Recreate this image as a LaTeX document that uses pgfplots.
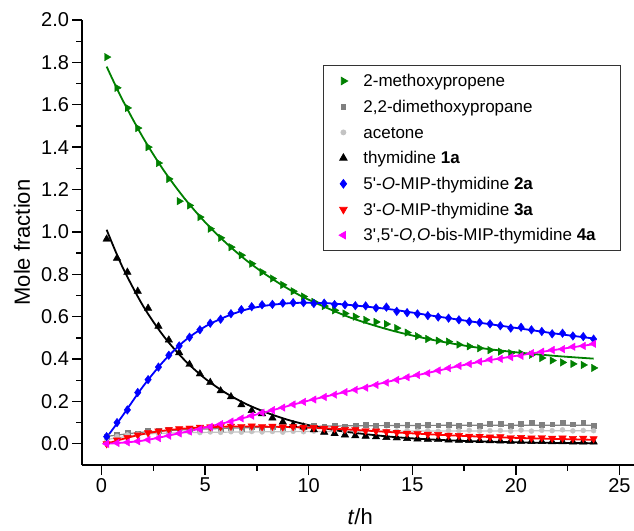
\documentclass[border=0pt]{standalone}
\usepackage{pgfplots}
\usepackage{pgfplotstable}
\pgfplotsset{compat=1.18}
\usepackage{fontspec}
\setmainfont{Liberation Sans}

\definecolor{cgreen}{RGB}{0,128,0}
\definecolor{cgray}{RGB}{128,128,128}
\definecolor{clgray}{RGB}{195,195,195}
\definecolor{cblue}{RGB}{0,0,255}
\definecolor{cred}{RGB}{255,0,0}
\definecolor{cmag}{RGB}{255,0,255}

% legend image: one mark, with room before the text
\pgfplotsset{legimg/.style={legend image code/.code={%
    \path[draw=none, fill=none] (0pt,-4pt) rectangle (29pt,4pt);
    \draw[##1,mark repeat=2,mark phase=2] plot coordinates {(0pt,0pt)(12pt,0pt)(29pt,0pt)};}}}
\newcommand{\legtext}[1]{\makebox[246pt][l]{\rule[-4pt]{0pt}{17pt}#1}}

% measured mole fractions, every 0.5 h
\pgfplotstableread{
t mp dmp ac thy a2 a3 a4
0.25 1.825 0.035 0.020 0.966 0.034 0.000 0.000
0.75 1.680 0.045 0.035 0.876 0.100 0.018 0.004
1.25 1.585 0.055 0.042 0.810 0.160 0.030 0.007
1.75 1.490 0.050 0.045 0.720 0.242 0.042 0.012
2.25 1.400 0.060 0.050 0.640 0.303 0.052 0.019
2.75 1.325 0.062 0.048 0.555 0.362 0.060 0.027
3.25 1.250 0.065 0.052 0.490 0.418 0.066 0.038
3.75 1.145 0.060 0.050 0.430 0.462 0.071 0.049
4.25 1.125 0.070 0.055 0.375 0.503 0.074 0.058
4.75 1.070 0.068 0.053 0.330 0.538 0.078 0.069
5.25 1.015 0.072 0.056 0.290 0.569 0.080 0.080
5.75 0.972 0.070 0.054 0.250 0.588 0.081 0.093
6.25 0.928 0.075 0.057 0.222 0.614 0.083 0.105
6.75 0.890 0.072 0.055 0.184 0.633 0.082 0.120
7.25 0.850 0.078 0.058 0.157 0.647 0.084 0.133
7.75 0.810 0.075 0.056 0.142 0.656 0.081 0.147
8.25 0.780 0.080 0.058 0.122 0.658 0.083 0.159
8.75 0.750 0.077 0.055 0.103 0.664 0.080 0.171
9.25 0.720 0.082 0.059 0.090 0.666 0.081 0.186
9.75 0.695 0.080 0.057 0.079 0.666 0.078 0.198
10.25 0.670 0.085 0.060 0.066 0.662 0.077 0.209
10.75 0.650 0.082 0.058 0.055 0.664 0.073 0.221
11.25 0.630 0.086 0.060 0.048 0.657 0.072 0.232
11.75 0.615 0.083 0.057 0.042 0.656 0.068 0.244
12.25 0.600 0.087 0.061 0.038 0.652 0.066 0.255
12.75 0.585 0.092 0.059 0.036 0.651 0.062 0.265
13.25 0.575 0.085 0.062 0.033 0.641 0.060 0.278
13.75 0.565 0.090 0.060 0.030 0.645 0.057 0.289
14.25 0.546 0.088 0.061 0.028 0.625 0.054 0.302
14.75 0.525 0.090 0.063 0.025 0.619 0.050 0.314
15.25 0.508 0.086 0.060 0.023 0.613 0.049 0.325
15.75 0.495 0.090 0.062 0.021 0.605 0.045 0.333
16.25 0.487 0.088 0.059 0.020 0.598 0.044 0.346
16.75 0.482 0.092 0.063 0.018 0.593 0.040 0.357
17.25 0.468 0.086 0.061 0.017 0.585 0.039 0.368
17.75 0.460 0.093 0.064 0.016 0.577 0.036 0.377
18.25 0.451 0.087 0.060 0.015 0.572 0.035 0.388
18.75 0.442 0.094 0.062 0.014 0.566 0.032 0.398
19.25 0.435 0.094 0.063 0.013 0.557 0.033 0.401
19.75 0.428 0.086 0.060 0.012 0.546 0.029 0.409
20.25 0.427 0.094 0.065 0.012 0.550 0.030 0.415
20.75 0.420 0.100 0.060 0.011 0.538 0.027 0.428
21.25 0.405 0.090 0.064 0.011 0.530 0.029 0.435
21.75 0.393 0.093 0.062 0.010 0.519 0.026 0.443
22.25 0.384 0.100 0.066 0.010 0.522 0.027 0.447
22.75 0.377 0.093 0.061 0.009 0.509 0.025 0.458
23.25 0.372 0.100 0.063 0.009 0.506 0.026 0.462
23.75 0.358 0.086 0.062 0.009 0.494 0.024 0.472
}\kin

\begin{document}
\begin{tikzpicture}
\useasboundingbox (-82pt,-65pt) rectangle (552pt,465pt);
\begin{axis}[
    at={(0pt,0pt)}, anchor=south west,
    scale only axis, width=552pt, height=445pt,
    xmin=-0.94, xmax=25.7, ymin=-0.1, ymax=2.0,
    axis x line*=bottom, axis y line*=left,
    axis line style={line width=1.3pt, -},
    xtick={0,5,10,15,20,25},
    ytick={0,0.2,0.4,0.6,0.8,1.0,1.2,1.4,1.6,1.8,2.0},
    minor x tick num=1, minor y tick num=1,
    tick align=outside,
    major tick length=9.5pt, minor tick length=5.5pt,
    every tick/.style={black, line width=1.3pt},
    /pgf/number format/assume math mode=true,
    tick label style={font=\fontsize{20}{20}\selectfont},
    yticklabel style={/pgf/number format/.cd, fixed, fixed zerofill, precision=1},
    every axis y label/.style={at={(rel axis cs:0,0.5)}, rotate=90, anchor=center, yshift=60pt},
    every axis x label/.style={at={(rel axis cs:0.504,0)}, anchor=base, yshift=-59pt},
    ylabel={\fontsize{22}{22}\selectfont Mole fraction},
    xlabel={\fontsize{22}{22}\selectfont\textit{t}/h},
    legend style={at={(rel axis cs:0.4366,0.899)}, anchor=north west,
        draw=black!80, line width=0.8pt, fill=white,
        font=\fontsize{17}{17}\selectfont,
        inner xsep=8pt, inner ysep=5.4pt, row sep=5.2pt,
        nodes={inner sep=3pt}},
    legend cell align=left,
]
% fitted curves
\addplot[clgray, line width=1.2pt, smooth, forget plot] coordinates {
 (0.25,0.02) (2,0.045) (4,0.052) (6,0.055) (10,0.058) (15,0.060) (20,0.061) (23.75,0.062)};
\addplot[cgray, line width=1.2pt, smooth, forget plot] coordinates {
 (0.25,0.035) (2,0.055) (4,0.066) (6,0.073) (8,0.078) (10,0.082) (12,0.085) (16,0.087) (20,0.088) (23.75,0.088)};
\addplot[cgreen, line width=1.8pt, smooth, forget plot] coordinates {
 (0.25,1.780) (1,1.626) (2,1.446) (3,1.291) (4,1.159) (5,1.046) (6,0.949) (7,0.865) (8,0.794)
 (9,0.732) (10,0.680) (12,0.596) (14,0.535) (16,0.490) (18,0.456) (20,0.432) (22,0.414) (23.75,0.402)};
\addplot[black, line width=1.8pt, smooth, forget plot] coordinates {
 (0.25,1.010) (1,0.837) (2,0.652) (3,0.508) (4,0.396) (5,0.308) (6,0.240) (7,0.187) (8,0.146)
 (9,0.113) (10,0.088) (11,0.069) (12,0.054) (14,0.033) (16,0.020) (18,0.012) (20,0.007) (22,0.004) (23.75,0.003)};
\addplot[cblue, line width=1.8pt, smooth, forget plot] coordinates {
 (0.25,0.030) (1,0.130) (2,0.270) (3,0.390) (4,0.485) (5,0.553) (6,0.600) (7,0.634) (8,0.653)
 (9,0.663) (10,0.666) (11,0.663) (12,0.655) (14,0.634) (16,0.604) (18,0.575) (20,0.547) (22,0.519) (23.75,0.497)};
\addplot[cred, line width=1.8pt, smooth, forget plot] coordinates {
 (0.25,0.000) (1,0.022) (2,0.046) (3,0.062) (4,0.072) (5,0.078) (6,0.081) (7,0.082) (8,0.081)
 (9,0.079) (10,0.076) (12,0.067) (14,0.055) (16,0.044) (18,0.035) (20,0.028) (22,0.023) (23.75,0.019)};
\addplot[cmag, line width=1.8pt, smooth, forget plot] coordinates {
 (0.25,0.000) (2,0.015) (4,0.055) (6,0.100) (8,0.152) (10,0.204) (12,0.250) (14,0.297)
 (16,0.340) (18,0.382) (20,0.415) (22,0.445) (23.75,0.470)};
% measured points
\addplot[only marks, legimg, mark=triangle*, mark size=4.3pt, color=cgreen, mark options={rotate=-90}] table[x=t, y=mp] {\kin};
\addlegendentry{\legtext{2-methoxypropene}}
\addplot[only marks, legimg, mark=square*, mark size=2.4pt, color=cgray] table[x=t, y=dmp] {\kin};
\addlegendentry{\legtext{2,2-dimethoxypropane}}
\addplot[only marks, legimg, mark=*, mark size=2.5pt, color=clgray] table[x=t, y=ac] {\kin};
\addlegendentry{\legtext{acetone}}
\addplot[only marks, legimg, mark=triangle*, mark size=4.3pt, color=black] table[x=t, y=thy] {\kin};
\addlegendentry{\legtext{thymidine \textbf{1a}}}
\addplot[only marks, legimg, mark=diamond*, mark size=4.3pt, color=cblue] table[x=t, y=a2] {\kin};
\addlegendentry{\legtext{5\textquotesingle-\textit{O}-MIP-thymidine \textbf{2a}}}
\addplot[only marks, legimg, mark=triangle*, mark size=4.3pt, color=cred, mark options={rotate=180}] table[x=t, y=a3] {\kin};
\addlegendentry{\legtext{3\textquotesingle-\textit{O}-MIP-thymidine \textbf{3a}}}
\addplot[only marks, legimg, mark=triangle*, mark size=4.3pt, color=cmag, mark options={rotate=90}] table[x=t, y=a4] {\kin};
\addlegendentry{\legtext{3\textquotesingle,5\textquotesingle-\textit{O,O}-bis-MIP-thymidine \textbf{4a}}}
\end{axis}
\end{tikzpicture}
\end{document}
